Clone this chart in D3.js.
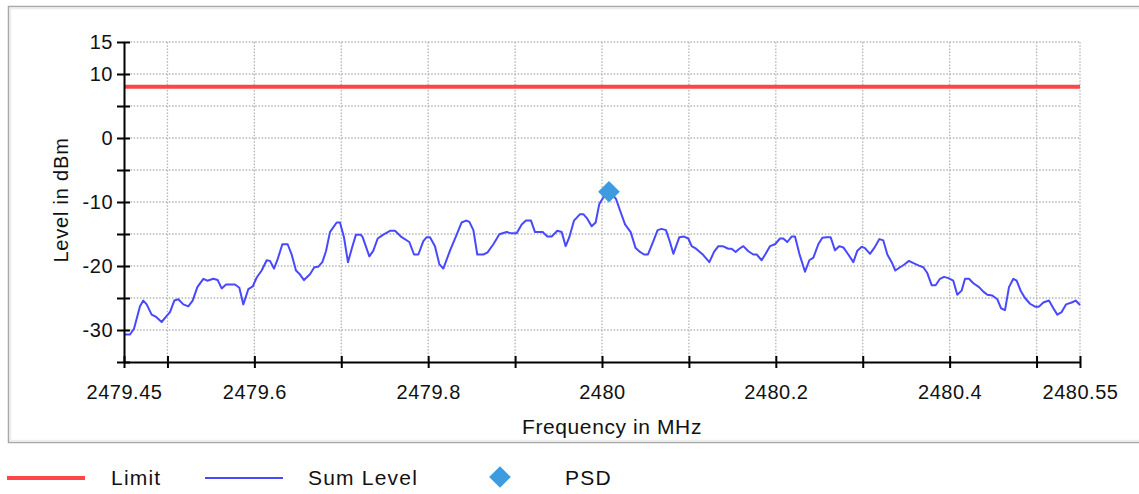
<!DOCTYPE html>
<html>
<head>
<meta charset="utf-8">
<script src="https://cdn.jsdelivr.net/npm/d3@7"></script>
<style>
  body { margin: 0; background: #fff; }
  svg { display: block; }
</style>
</head>
<body>
<svg id="chart" width="1139" height="494"></svg>
<script>
// Sum Level trace (frequency in MHz, level in dBm)
const sumFreq = [
  2479.4500, 2479.4569, 2479.4615, 2479.4684, 2479.4722, 2479.4761, 2479.4818, 2479.4864,
  2479.4933, 2479.4972, 2479.5029, 2479.5079, 2479.5125, 2479.5183, 2479.5240, 2479.5290,
  2479.5344, 2479.5413, 2479.5459, 2479.5528, 2479.5578, 2479.5624, 2479.5674, 2479.5777,
  2479.5827, 2479.5873, 2479.5931, 2479.5981, 2479.6027, 2479.6084, 2479.6142, 2479.6180,
  2479.6226, 2479.6264, 2479.6322, 2479.6383, 2479.6429, 2479.6479, 2479.6517, 2479.6571,
  2479.6640, 2479.6690, 2479.6736, 2479.6782, 2479.6824, 2479.6870, 2479.6947, 2479.6985,
  2479.7031, 2479.7077, 2479.7127, 2479.7169, 2479.7223, 2479.7246, 2479.7285, 2479.7323,
  2479.7369, 2479.7419, 2479.7484, 2479.7561, 2479.7618, 2479.7695, 2479.7783, 2479.7837,
  2479.7887, 2479.7944, 2479.7983, 2479.8021, 2479.8078, 2479.8128, 2479.8174, 2479.8251,
  2479.8328, 2479.8385, 2479.8435, 2479.8474, 2479.8520, 2479.8565, 2479.8634, 2479.8681,
  2479.8750, 2479.8819, 2479.8903, 2479.8961, 2479.9018, 2479.9076, 2479.9125, 2479.9183,
  2479.9229, 2479.9317, 2479.9371, 2479.9421, 2479.9486, 2479.9536, 2479.9582, 2479.9624,
  2479.9678, 2479.9747, 2479.9785, 2479.9831, 2479.9881, 2479.9927, 2479.9969, 2480.0015,
  2480.0085, 2480.0161, 2480.0215, 2480.0265, 2480.0330, 2480.0387, 2480.0437, 2480.0483,
  2480.0529, 2480.0591, 2480.0640, 2480.0686, 2480.0736, 2480.0782, 2480.0821, 2480.0890,
  2480.0944, 2480.0993, 2480.1032, 2480.1082, 2480.1166, 2480.1235, 2480.1289, 2480.1339,
  2480.1388, 2480.1454, 2480.1492, 2480.1538, 2480.1580, 2480.1626, 2480.1684, 2480.1741,
  2480.1780, 2480.1837, 2480.1883, 2480.1933, 2480.1991, 2480.2048, 2480.2086, 2480.2132,
  2480.2182, 2480.2221, 2480.2271, 2480.2336, 2480.2386, 2480.2432, 2480.2489, 2480.2535,
  2480.2585, 2480.2631, 2480.2681, 2480.2730, 2480.2777, 2480.2834, 2480.2892, 2480.2938,
  2480.2988, 2480.3026, 2480.3084, 2480.3141, 2480.3191, 2480.3237, 2480.3283, 2480.3333,
  2480.3375, 2480.3429, 2480.3475, 2480.3532, 2480.3590, 2480.3647, 2480.3697, 2480.3743,
  2480.3793, 2480.3839, 2480.3889, 2480.3935, 2480.3985, 2480.4042, 2480.4088, 2480.4138,
  2480.4177, 2480.4223, 2480.4273, 2480.4338, 2480.4388, 2480.4434, 2480.4491, 2480.4549,
  2480.4591, 2480.4637, 2480.4683, 2480.4733, 2480.4771, 2480.4817, 2480.4867, 2480.4925,
  2480.4982, 2480.5028, 2480.5078, 2480.5143, 2480.5193, 2480.5239, 2480.5289, 2480.5339,
  2480.5404, 2480.5450, 2480.5500
];
const sumLevel = [
  -30.7, -30.7, -29.8, -26.3, -25.4, -26.0, -27.6, -27.9,
  -28.75, -28.1, -27.2, -25.4, -25.2, -26.0, -26.3, -25.4,
  -23.3, -22.0, -22.3, -22.0, -22.2, -23.5, -22.9, -22.9,
  -23.4, -26.0, -23.6, -23.2, -21.8, -20.7, -19.1, -19.2,
  -20.4, -19.1, -16.6, -16.6, -18.2, -20.7, -21.2, -22.2,
  -21.3, -20.2, -20.1, -19.4, -17.7, -14.7, -13.2, -13.2,
  -15.5, -19.4, -17.0, -15.1, -15.1, -15.5, -17.0, -18.5,
  -17.6, -15.7, -15.1, -14.5, -14.5, -15.5, -16.25, -18.2,
  -18.2, -16.1, -15.5, -15.5, -16.9, -19.7, -20.4, -17.6,
  -15.1, -13.2, -12.9, -13.1, -14.4, -18.2, -18.2, -17.9,
  -16.6, -15.05, -14.7, -14.9, -14.9, -13.5, -12.9, -12.9,
  -14.7, -14.7, -15.4, -15.4, -14.5, -14.7, -16.9, -15.5,
  -12.9, -11.9, -11.9, -12.6, -13.8, -13.2, -10.3, -9.3,
  -8.3, -9.5, -11.6, -13.5, -14.7, -17.2, -17.8, -18.2,
  -18.2, -16.1, -14.4, -14.2, -14.4, -16.25, -18.1, -15.5,
  -15.4, -15.7, -16.9, -17.3, -18.3, -19.4, -17.8, -16.9,
  -16.9, -17.3, -17.3, -17.8, -17.3, -16.9, -17.7, -18.2,
  -18.2, -19.1, -18.1, -16.9, -16.6, -15.7, -15.7, -16.25,
  -15.4, -15.4, -18.1, -20.9, -19.1, -18.7, -16.6, -15.6,
  -15.5, -15.5, -17.55, -16.9, -17.1, -18.2, -19.4, -17.6,
  -17.0, -17.2, -18.1, -17.0, -15.8, -16.0, -18.2, -19.4,
  -20.7, -20.2, -19.8, -19.2, -19.6, -19.95, -20.2, -21.1,
  -23.0, -23.0, -22.0, -21.7, -21.9, -22.3, -24.5, -23.85,
  -22.0, -22.0, -22.7, -23.3, -24.0, -24.5, -24.6, -25.2,
  -26.6, -26.9, -23.3, -22.0, -22.3, -23.85, -25.0, -25.9,
  -26.35, -26.35, -25.7, -25.4, -26.6, -27.6, -27.2, -26.0,
  -25.7, -25.4, -26.1
];
const limitLevel = 8;
const psdFreq = [2480.008];
const psdLevel = [-8.4];

const xDomain = [2479.45, 2480.55];
const yDomain = [-35, 15];
const xTicks = [2479.45, 2479.5, 2479.6, 2479.7, 2479.8, 2479.9, 2480, 2480.1, 2480.2, 2480.3, 2480.4, 2480.5, 2480.55];
const xTickLabels = ['2479.45', '', '2479.6', '', '2479.8', '', '2480', '', '2480.2', '', '2480.4', '', '2480.55'];
const yTicks = [-35, -30, -25, -20, -15, -10, -5, 0, 5, 10, 15];
const yTickLabels = ['', '-30', '', '-20', '', '-10', '', '0', '', '10', '15'];
const legendNames = ['Limit', 'Sum Level', 'PSD'];

// Style values
const fontFamily = '"Liberation Sans", Arial, sans-serif';
const limitColor = '#ff4646';
const sumColor = '#4848ff';
const psdColor = '#3d9be0';
const gridColor = '#b4b4b4';

const svg = d3.select('#chart');
const plot = { left: 124, right: 1080, top: 42, bottom: 362 };

const x = d3.scaleLinear().domain(xDomain).range([plot.left, plot.right]);
const y = d3.scaleLinear().domain(yDomain).range([plot.bottom, plot.top]);

// Outer frame
svg.append('rect')
  .attr('x', 8.5).attr('y', 6.5)
  .attr('width', 1140).attr('height', 436)
  .attr('fill', 'none')
  .attr('stroke', '#a8a8a8')
  .attr('stroke-width', 1.5);
svg.append('rect')
  .attr('x', 10.5).attr('y', 8.5)
  .attr('width', 1140).attr('height', 432)
  .attr('fill', 'none')
  .attr('stroke', '#ececec')
  .attr('stroke-width', 1.5);

// Dotted grid
const grid = svg.append('g').attr('class', 'grid');
grid.selectAll('.hgrid')
  .data(yTicks.filter((v) => v > yDomain[0]))
  .enter()
  .append('line')
  .attr('x1', plot.left).attr('x2', plot.right)
  .attr('y1', (d) => y(d)).attr('y2', (d) => y(d));
grid.selectAll('.vgrid')
  .data(xTicks.filter((v) => v > xDomain[0]))
  .enter()
  .append('line')
  .attr('x1', (d) => x(d)).attr('x2', (d) => x(d))
  .attr('y1', plot.top).attr('y2', plot.bottom);
grid.selectAll('line')
  .attr('stroke', gridColor)
  .attr('stroke-width', 1.3)
  .attr('stroke-dasharray', '1.5,1.7');

// Limit line
svg.append('line')
  .attr('x1', x(xDomain[0])).attr('x2', x(xDomain[1]))
  .attr('y1', y(limitLevel)).attr('y2', y(limitLevel))
  .attr('stroke', limitColor)
  .attr('stroke-width', 4);

// Sum level trace
const line = d3.line()
  .x((d) => x(d[0]))
  .y((d) => y(d[1]));
svg.append('path')
  .datum(sumFreq.map((f, i) => [f, sumLevel[i]]))
  .attr('d', line)
  .attr('fill', 'none')
  .attr('stroke', sumColor)
  .attr('stroke-width', 2)
  .attr('stroke-linejoin', 'round');

// PSD marker
const diamond = d3.symbol().type(d3.symbolDiamond2).size(300);
svg.selectAll('.psd')
  .data(psdFreq.map((f, i) => [f, psdLevel[i]]))
  .enter()
  .append('path')
  .attr('class', 'psd')
  .attr('d', diamond)
  .attr('transform', (d) => `translate(${x(d[0])},${y(d[1])})`)
  .attr('fill', psdColor);

// Axes
const xAxis = svg.append('g')
  .attr('transform', `translate(0,${plot.bottom})`)
  .call(
    d3.axisBottom(x)
      .tickValues(xTicks)
      .tickSize(6)
      .tickSizeOuter(0)
      .tickFormat((d, i) => xTickLabels[i])
  );
xAxis.selectAll('.tick line').attr('y1', -6);
xAxis.selectAll('.tick text').attr('y', 23);

const yAxis = svg.append('g')
  .attr('transform', `translate(${plot.left},0)`)
  .call(
    d3.axisLeft(y)
      .tickValues(yTicks)
      .tickSize(7)
      .tickSizeOuter(0)
      .tickFormat((d, i) => yTickLabels[i])
  );
yAxis.selectAll('.tick line').attr('x1', 6);
yAxis.selectAll('.tick text').attr('x', -11);

svg.selectAll('.domain, .tick line')
  .attr('stroke', '#000')
  .attr('stroke-width', 2);
svg.selectAll('.tick text')
  .attr('fill', '#111')
  .attr('font-family', fontFamily)
  .attr('font-size', 20)
  .attr('letter-spacing', 0.5);

// Axis titles
svg.append('text')
  .attr('x', 612).attr('y', 434)
  .attr('text-anchor', 'middle')
  .attr('font-family', fontFamily)
  .attr('font-size', 21)
  .attr('letter-spacing', 0.6)
  .attr('fill', '#111')
  .text('Frequency in MHz');
svg.append('text')
  .attr('transform', 'translate(68,200) rotate(-90)')
  .attr('text-anchor', 'middle')
  .attr('font-family', fontFamily)
  .attr('font-size', 20)
  .attr('letter-spacing', 0.8)
  .attr('fill', '#111')
  .text('Level in dBm');

// Legend
const legend = svg.append('g').attr('class', 'legend');
legend.append('line')
  .attr('x1', 7).attr('x2', 85).attr('y1', 478).attr('y2', 478)
  .attr('stroke', limitColor).attr('stroke-width', 4);
legend.append('line')
  .attr('x1', 205).attr('x2', 283).attr('y1', 478).attr('y2', 478)
  .attr('stroke', sumColor).attr('stroke-width', 2);
legend.append('path')
  .attr('d', diamond)
  .attr('transform', 'translate(500,477)')
  .attr('fill', psdColor);
legend.selectAll('text')
  .data(legendNames)
  .enter()
  .append('text')
  .attr('x', (d, i) => [111, 308, 565][i])
  .attr('y', 485)
  .attr('font-family', fontFamily)
  .attr('font-size', 21)
  .attr('letter-spacing', 1.2)
  .attr('fill', '#111')
  .text((d) => d);
</script>
</body>
</html>
